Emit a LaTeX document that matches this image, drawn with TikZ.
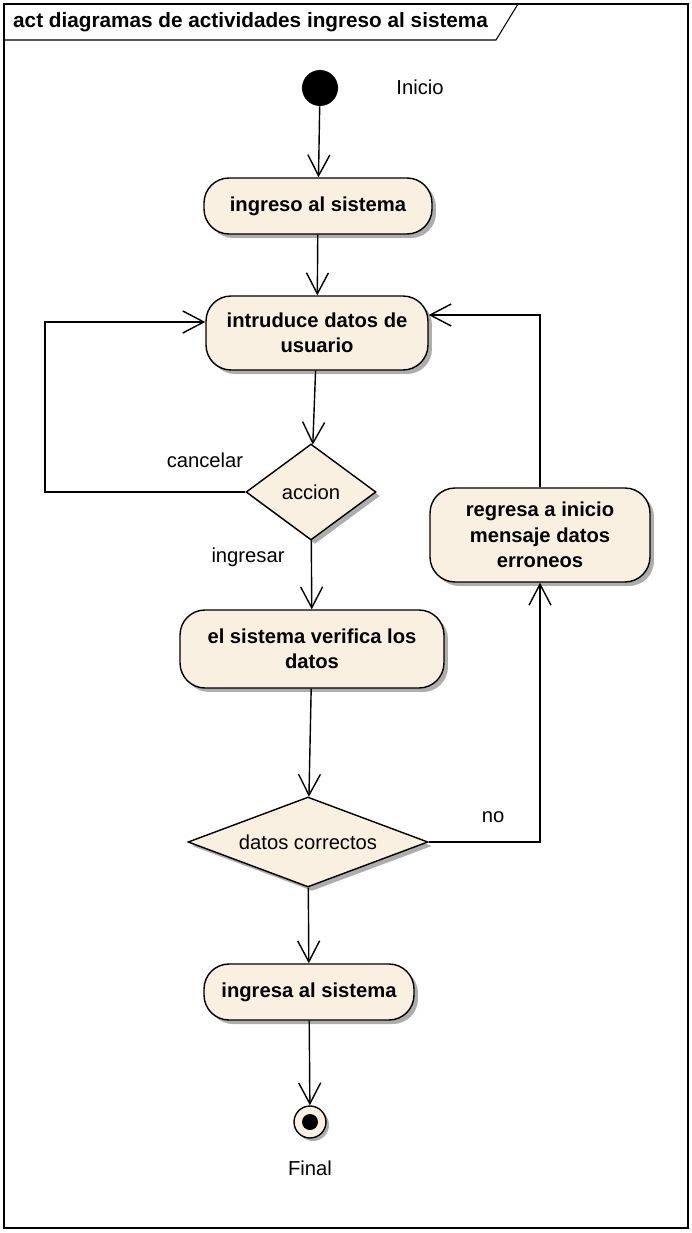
\documentclass[tikz,border=0pt]{standalone}
\usepackage{fontspec}
\setmainfont{Liberation Sans}
\usetikzlibrary{arrows.meta, positioning, shapes.geometric, shadows, calc}
\definecolor{ActFill}{RGB}{250, 240, 226}
\definecolor{ActLine}{RGB}{0, 0, 0}

\begin{document}
\begin{tikzpicture}[
  x=0.02cm, y=-0.02cm,
  every node/.style={font=\fontsize{11.5}{14}\selectfont},
  act/.style={draw=ActLine, line width=0.8pt, rounded corners=0.5cm, fill=ActFill,
              align=center, font=\fontsize{11.5}{14.5}\selectfont\bfseries,
              drop shadow={shadow xshift=0.08cm, shadow yshift=-0.08cm, fill=black!40, opacity=0.8}},
  decision/.style={diamond, draw=ActLine, line width=0.8pt, fill=ActFill, inner sep=0pt,
              drop shadow={shadow xshift=0.08cm, shadow yshift=-0.08cm, fill=black!40, opacity=0.8}},
  arr/.style={-{Straight Barb[length=0.42cm, width=0.44cm]}, line width=0.8pt, draw=ActLine}
]
  \useasboundingbox (0,0) rectangle (691,1233);

  % marco
  \draw[line width=0.6pt] (4,4) rectangle (688,1228);
  \draw[line width=0.6pt] (4,40) -- (496,40) -- (518,4);
  \node[anchor=west, font=\fontsize{11.8}{14}\selectfont\bfseries] (titulo) at (7,22)
    {act diagramas de actividades ingreso al sistema};

  \node[circle, fill=black, minimum size=0.72cm, inner sep=0pt] (inicio) at (320,88) {};
  \node (lblinicio) at (420,87) {Inicio};

  \node[act, minimum width=4.56cm, minimum height=1.12cm] (ingreso)  at (318,206) {ingreso al sistema};
  \node[act, minimum width=4.44cm, minimum height=1.48cm] (datos)    at (317,333) {intruduce datos de\\usuario};
  \node[decision, aspect=1.35, minimum width=2.6cm, minimum height=1.92cm] (accion) at (311,492) {accion};
  \node[act, minimum width=5.28cm, minimum height=1.56cm] (verifica) at (312,649) {el sistema verifica los\\datos};
  \node[decision, aspect=2.67, minimum width=4.8cm, minimum height=1.8cm] (correctos) at (308,842) {datos correctos};
  \node[act, minimum width=4.4cm, minimum height=1.88cm]  (regresa)  at (540,535) {regresa a inicio\\mensaje datos\\erroneos};
  \node[act, minimum width=4.2cm, minimum height=1.12cm]  (ingresa)  at (309,992) {ingresa al sistema};

  \node[circle, draw=ActLine, line width=0.8pt, fill=ActFill, minimum size=0.64cm, inner sep=0pt,
        drop shadow={shadow xshift=0.06cm, shadow yshift=-0.06cm, fill=black!40, opacity=0.8}] (final) at (310,1122) {};
  \node[circle, fill=black, minimum size=0.32cm, inner sep=0pt] (finaldot) at (final) {};
  \node (lblfinal) at (310,1168) {Final};

  \node (lblcancelar) at (205,460) {cancelar};
  \node (lblingresar) at (248,557) {ingresar};
  \node (lblno)       at (493,817) {no};

  \coordinate (cancelcorner) at (45,322);
  \coordinate (retorno) at (540,315);

  \draw[arr] (inicio)    -- (ingreso);
  \draw[arr] (ingreso)   -- (datos);
  \draw[arr] (datos)     -- (accion);
  \draw[arr] (accion)    -- (verifica);
  \draw[arr] (verifica)  -- (correctos);
  \draw[arr] (correctos) -- (ingresa);
  \draw[arr] (ingresa)   -- (final);

  \draw[arr] (accion.west) -| (cancelcorner) -- (cancelcorner -| datos.west);
  \draw[arr] (correctos.east) -| (regresa.south);
  \draw[arr] (regresa.north) -- (retorno) -- (retorno -| datos.east);
\end{tikzpicture}
\end{document}
